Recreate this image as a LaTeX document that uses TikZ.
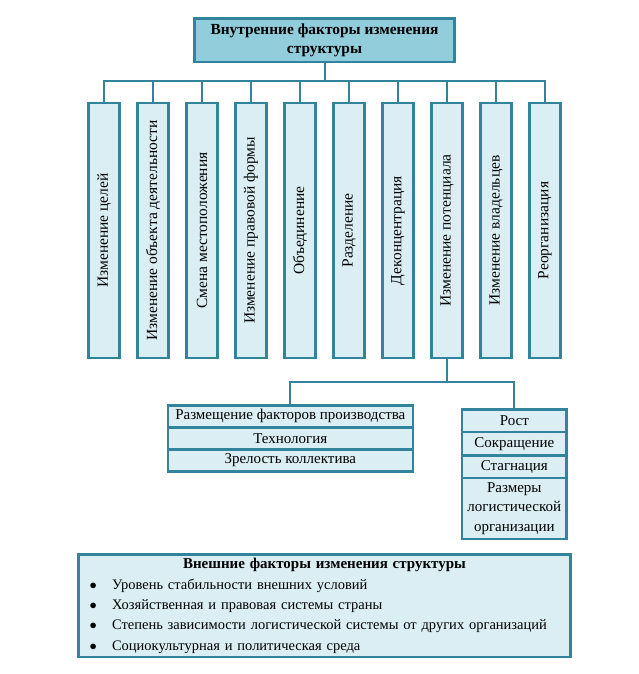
\documentclass[tikz,border=0pt]{standalone}
\usepackage{fontspec}
\setmainfont{Liberation Serif}
\usepackage{graphicx}
\usetikzlibrary{positioning}

\definecolor{boxline}{HTML}{31849B}
\definecolor{boxfill}{HTML}{DAEEF3}
\definecolor{topfill}{HTML}{92CDDC}

\begin{document}
\begin{tikzpicture}[x=1pt,y=-1pt,font=\fontsize{15}{19.5}\selectfont]
  \tikzstyle{headbox}=[draw=boxline,fill=topfill,line width=2.5pt,minimum width=260pt,minimum height=43.5pt,align=center,font=\fontsize{15.4}{19.5}\selectfont\bfseries]
  \tikzstyle{factor}=[draw=boxline,fill=boxfill,line width=2.5pt,minimum width=31pt,minimum height=254.5pt,inner sep=0pt,font=\fontsize{15.5}{19.5}\selectfont]
  \tikzstyle{item}=[draw=boxline,fill=boxfill,line width=2.5pt,outer sep=0pt,inner sep=1pt,align=center]
  \tikzstyle{link}=[draw=boxline,line width=2pt]

  \useasboundingbox (0,0) rectangle (638,674);

  \node[headbox] (Top) at (324.5,40.5) {Внутренние факторы изменения\\структуры};

  \node[factor] (F1) at (104,230.5) {\rotatebox{90}{Изменение целей}};
  \node[factor] (F2) [right=15.5pt of F1] {\rotatebox{90}{Изменение объекта деятельности}};
  \node[factor] (F3) [right=15.5pt of F2] {\rotatebox{90}{Смена местоположения}};
  \node[factor] (F4) [right=15.5pt of F3] {\rotatebox{90}{Изменение правовой формы}};
  \node[factor] (F5) [right=15.5pt of F4] {\rotatebox{90}{Объединение}};
  \node[factor] (F6) [right=15.5pt of F5] {\rotatebox{90}{Разделение}};
  \node[factor] (F7) [right=15.5pt of F6] {\rotatebox{90}{Деконцентрация}};
  \node[factor] (F8) [right=15.5pt of F7] {\rotatebox{90}{Изменение потенциала}};
  \node[factor] (F9) [right=15.5pt of F8] {\rotatebox{90}{Изменение владельцев}};
  \node[factor] (F10) [right=15.5pt of F9] {\rotatebox{90}{Реорганизация}};

  % potential
  \node[item, minimum width=245pt, minimum height=22pt] (L1) at (290.3,416.3) {Размещение факторов производства};
  \node[item, minimum width=245pt, minimum height=22pt] (L2) [below=0pt of L1] {Технология};
  \node[item, minimum width=245pt, minimum height=22pt] (L3) [below=0pt of L2] {Зрелость коллектива};

  \node[item, minimum width=104.2pt, minimum height=22.5pt] (R1) at (514.3,420.75) {Рост};
  \node[item, minimum width=104.2pt, minimum height=23.5pt] (R2) [below=0pt of R1] {Сокращение};
  \node[item, minimum width=104.2pt, minimum height=22.5pt] (R3) [below=0pt of R2] {Стагнация};
  \node[item, minimum width=104.2pt, minimum height=61pt] (R4) [below=0pt of R3] {Размеры\\логистической\\организации};

  % external
  \node[draw=boxline,fill=boxfill,line width=2.5pt,inner xsep=11pt,inner ysep=0pt,text width=469.9pt,minimum height=102.5pt,align=left,font=\fontsize{14.5}{20.3}\selectfont] (Ext) at (324.5,605.8)
    {{\centering\fontsize{15}{20.3}\selectfont\textbf{Внешние факторы изменения структуры}\par}
     \makebox[22.5pt][l]{$\bullet$}Уровень стабильности внешних условий\\
     \makebox[22.5pt][l]{$\bullet$}Хозяйственная и правовая системы страны\\
     \makebox[22.5pt][l]{$\bullet$}Степень зависимости логистической системы от других организаций\\
     \makebox[22.5pt][l]{$\bullet$}Социокультурная и политическая среда};

  \draw[link] (Top.south) -- ++(0,17.5) coordinate (B);
  \draw[link] (F1.north) |- (B) -| (F10.north);
  \draw[link] (F2.north) -- (F2.north |- B);
  \draw[link] (F3.north) -- (F3.north |- B);
  \draw[link] (F4.north) -- (F4.north |- B);
  \draw[link] (F5.north) -- (F5.north |- B);
  \draw[link] (F6.north) -- (F6.north |- B);
  \draw[link] (F7.north) -- (F7.north |- B);
  \draw[link] (F8.north) -- (F8.north |- B);
  \draw[link] (F9.north) -- (F9.north |- B);

  \draw[link] (F8.south) -- ++(0,23) coordinate (C);
  \draw[link] (L1.north) |- (C) -| (R1.north);
\end{tikzpicture}
\end{document}
